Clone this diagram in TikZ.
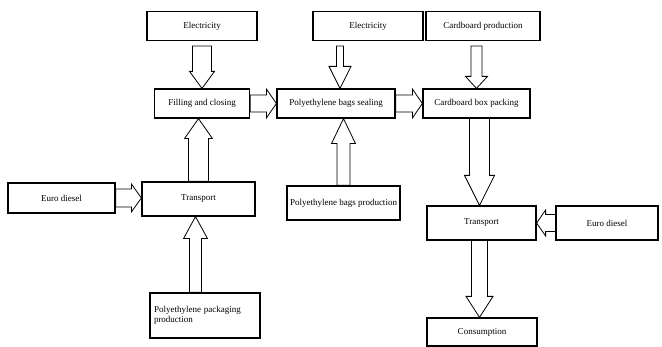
\documentclass[tikz,border=0pt]{standalone}
\usepackage{fontspec}
\setmainfont{Liberation Serif}
\usetikzlibrary{calc}

\newcommand{\varr}[5]{\draw[hollow] let \p1=(#1), \p2=(#2), \n1={sign(\y1-\y2)} in
  (\x1-#3,\y1) -- (\x1-#3,\y2+\n1*#5) -- (\x1-#4,\y2+\n1*#5) -- (\x1,\y2)
  -- (\x1+#4,\y2+\n1*#5) -- (\x1+#3,\y2+\n1*#5) -- (\x1+#3,\y1) -- cycle;}
\newcommand{\harr}[5]{\draw[hollow] let \p1=(#1), \p2=(#2), \n1={sign(\x1-\x2)} in
  (\x1,\y1-#3) -- (\x2+\n1*#5,\y1-#3) -- (\x2+\n1*#5,\y1-#4) -- (\x2,\y1)
  -- (\x2+\n1*#5,\y1+#4) -- (\x2+\n1*#5,\y1+#3) -- (\x1,\y1+#3) -- cycle;}

\begin{document}
\begin{tikzpicture}[x=1pt,y=-1pt,
  stage/.style={draw,line width=1.2pt,minimum width=#1,minimum height=29pt,
    inner sep=1pt,font=\fontsize{9}{9.5}\selectfont},
  hollow/.style={draw,line width=0.8pt,fill=white}]
\useasboundingbox (0,0) rectangle (662,347);
\node[stage=110pt] (el1) at (202,26) {Electricity};
\node[stage=110pt] (el2) at (368,26) {Electricity};
\node[stage=114pt] (cbp) at (483,26) {Cardboard production};
\node[stage=95pt] (fill) at (202,103.5) {Filling and closing};
\node[stage=118pt] (seal) at (336,103.5) {Polyethylene bags sealing};
\node[stage=107pt] (box) at (476.5,103.5) {Cardboard box packing};
\node[stage=107pt,minimum height=30pt] (ed1) at (61.5,198) {Euro diesel};
\node[stage=113pt,minimum height=34pt] (tr1) at (198.5,199) {Transport};
\node[stage=113pt,minimum height=34pt] (pbp) at (343.5,203) {Polyethylene bags production};
\node[stage=109pt,minimum height=34pt] (tr2) at (481.5,223) {Transport};
\node[stage=102pt,minimum height=34pt] (ed2) at (607,223) {Euro diesel};
\node[stage=110pt,minimum height=45pt,align=left,text width=102pt] (ppp) at (205,315.5)
  {Polyethylene packaging\\production};
\node[stage=110pt,minimum height=28pt] (con) at (482,332) {Consumption};

\varr{$(el1.south)+(0,5)$}{fill.north}{9.5pt}{12.5pt}{17pt}
\varr{$(el2.south -| seal.north)+(4,5)$}{seal.north}{3.5pt}{11pt}{22pt}
\varr{$(cbp.south -| box.north)+(0,5)$}{box.north}{5.5pt}{11pt}{12pt}
\harr{fill.east}{seal.west}{8.5pt}{14.5pt}{10pt}
\harr{seal.east}{box.west}{8.5pt}{14.5pt}{10pt}
\varr{tr1.north}{fill.south}{10pt}{14pt}{20pt}
\harr{ed1.east}{tr1.west}{9pt}{14pt}{10pt}
\varr{$(ppp.north -| tr1.south)+(-3,0)$}{tr1.south}{6pt}{12pt}{22pt}
\varr{pbp.north}{seal.south}{6.5pt}{12pt}{25pt}
\varr{$(box.south)+(3,0)$}{tr2.north}{10pt}{15pt}{30pt}
\harr{ed2.west}{tr2.east}{8.5pt}{13pt}{9pt}
\varr{$(tr2.south)+(-2,0)$}{con.north}{8pt}{13.5pt}{21pt}
\end{tikzpicture}
\end{document}
